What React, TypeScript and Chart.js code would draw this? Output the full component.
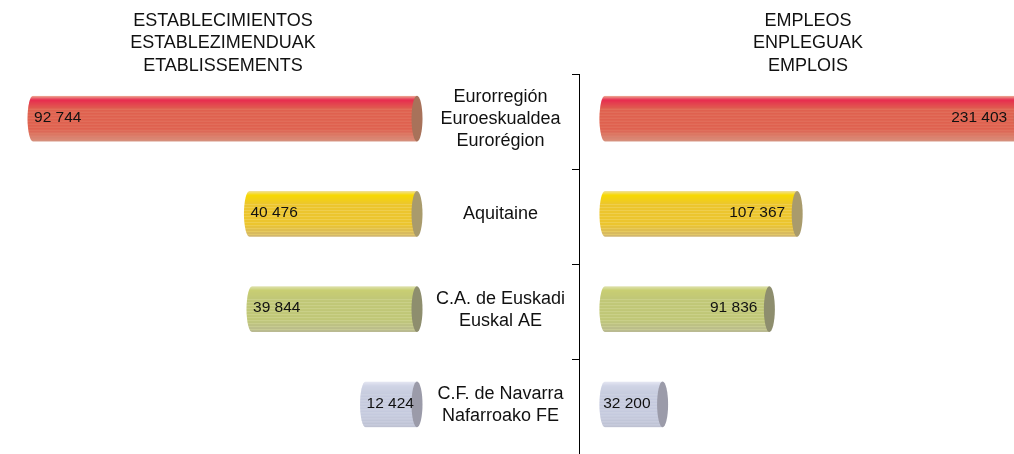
import React, { useEffect, useRef } from "react";
import { Chart, registerables } from "chart.js";

Chart.register(...registerables);

const categories: string[][] = [
  ["Eurorregión", "Euroeskualdea", "Eurorégion"],
  ["Aquitaine"],
  ["C.A. de Euskadi", "Euskal AE"],
  ["C.F. de Navarra", "Nafarroako FE"],
];
const establishments: number[] = [92744, 40476, 39844, 12424];
const employment: number[] = [231403, 107367, 91836, 32200];
const leftTitle: string[] = ["ESTABLECIMIENTOS", "ESTABLEZIMENDUAK", "ETABLISSEMENTS"];
const rightTitle: string[] = ["EMPLEOS", "ENPLEGUAK", "EMPLOIS"];

const FONT = '"Liberation Sans", Arial, Helvetica, sans-serif';

type Pal = { top: string; hi: string; mid: string; light: string; bottom: string; cap: string };
const palettes: Pal[] = [
  { top: "#e8907a", hi: "#e3002a", mid: "#d8402a", light: "#e0694e", bottom: "#cc7e66", cap: "#a8725a" },
  { top: "#f2e08a", hi: "#f7d900", mid: "#ecc52c", light: "#f1d768", bottom: "#cfb576", cap: "#a99b6c" },
  { top: "#d6da98", hi: "#bcc452", mid: "#b2ba58", light: "#cbd186", bottom: "#a8a97a", cap: "#8e8e6e" },
  { top: "#dde0ee", hi: "#c2c8df", mid: "#b4bad3", light: "#cacfe3", bottom: "#a8adc3", cap: "#9b9ba9" },
];

function hex(h: string): number[] {
  const v = parseInt(h.slice(1), 16);
  return [(v >> 16) & 255, (v >> 8) & 255, v & 255];
}
function mix(a: number[], b: number[], t: number): number[] {
  return a.map((x, i) => x + (b[i] - x) * t);
}
function rowColor(p: Pal, t: number, i: number): string {
  let c: number[];
  if (t < 0.08) c = mix(hex(p.top), hex(p.hi), t / 0.08);
  else if (t < 0.28) c = mix(hex(p.hi), hex(p.mid), (t - 0.08) / 0.2);
  else if (t < 0.72) c = hex(p.mid);
  else c = mix(hex(p.mid), hex(p.bottom), (t - 0.72) / 0.28);
  if (i % 3 === 1 && t > 0.25) c = mix(c, hex(p.light), 0.5);
  return `rgb(${Math.round(c[0])},${Math.round(c[1])},${Math.round(c[2])})`;
}

function fmt(n: number): string {
  return n.toString().replace(/\B(?=(\d{3})+(?!\d))/g, " ");
}

const RX = 5.5;

function cylinderPlugin(side: "left" | "right") {
  return {
    id: "cyl-" + side,
    afterDatasetsDraw(chart: any) {
      const ctx: CanvasRenderingContext2D = chart.ctx;
      const meta = chart.getDatasetMeta(0);
      const values: number[] = chart.data.datasets[0].data;
      meta.data.forEach((el: any, i: number) => {
        const { x, y, base, height } = el.getProps(["x", "y", "base", "height"], true);
        const cy = y - 3;
        const left = Math.min(x, base);
        const right = Math.max(x, base);
        const h = height;
        const top = cy - h / 2;
        const p = palettes[i % palettes.length];
        ctx.save();
        ctx.beginPath();
        ctx.moveTo(right, top);
        ctx.lineTo(left, top);
        ctx.ellipse(left, cy, RX, h / 2, 0, -Math.PI / 2, Math.PI / 2, true);
        ctx.lineTo(right, top + h);
        ctx.closePath();
        ctx.clip();
        const rows = Math.ceil(h);
        for (let r = 0; r < rows; r++) {
          ctx.fillStyle = rowColor(p, r / h, r);
          ctx.fillRect(left - RX - 1, top + r, right - left + RX + 2, 1);
        }
        ctx.restore();
        // end cap
        ctx.save();
        ctx.beginPath();
        ctx.ellipse(right, cy, RX, h / 2, 0, 0, Math.PI * 2);
        ctx.fillStyle = p.cap;
        ctx.fill();
        ctx.restore();
        // value label
        ctx.save();
        ctx.font = `15.5px ${FONT}`;
        ctx.fillStyle = "#111";
        ctx.textBaseline = "middle";
        if (side === "left") {
          ctx.textAlign = "left";
          ctx.fillText(fmt(values[i]), x + 1, cy - 1);
        } else {
          ctx.textAlign = "right";
          ctx.fillText(fmt(values[i]), x - 12, cy - 1);
        }
        ctx.restore();
      });
    },
  };
}

function titleOpts(text: string[]) {
  return {
    display: true,
    text,
    color: "#111",
    font: { size: 18, family: FONT, weight: "normal" as const, lineHeight: 1.25 },
    padding: { top: 9.5, bottom: -3 },
  };
}

export default function App() {
  const leftRef = useRef<HTMLCanvasElement>(null);
  const rightRef = useRef<HTMLCanvasElement>(null);

  useEffect(() => {
    const lc = new Chart(leftRef.current as HTMLCanvasElement, {
      type: "bar",
      data: {
        labels: categories as any,
        datasets: [
          {
            data: establishments,
            backgroundColor: "rgba(0,0,0,0)",
            borderWidth: 0,
            barPercentage: 0.48,
            categoryPercentage: 1,
          },
        ],
      },
      options: {
        indexAxis: "y",
        animation: false,
        responsive: false,
        layout: { padding: { left: 3, right: 0, top: 0, bottom: 1 } },
        plugins: {
          legend: { display: false },
          tooltip: { enabled: false },
          title: titleOpts(leftTitle) as any,
        },
        scales: {
          x: { reverse: true, min: 0, max: 100000, display: false },
          y: {
            position: "right",
            display: true,
            grid: { display: false },
            border: { display: false },
            ticks: { display: false },
            afterFit: (s: any) => {
              s.width = 26;
              s.paddingTop = 0;
              s.paddingBottom = 0;
            },
          },
        },
      },
      plugins: [cylinderPlugin("left")],
    });

    const rc = new Chart(rightRef.current as HTMLCanvasElement, {
      type: "bar",
      data: {
        labels: categories as any,
        datasets: [
          {
            data: employment,
            backgroundColor: "rgba(0,0,0,0)",
            borderWidth: 0,
            barPercentage: 0.48,
            categoryPercentage: 1,
          },
        ],
      },
      options: {
        indexAxis: "y",
        animation: false,
        responsive: false,
        layout: { padding: { left: 0, right: 0, top: 0, bottom: 1 } },
        plugins: {
          legend: { display: false },
          tooltip: { enabled: false },
          title: titleOpts(rightTitle) as any,
        },
        scales: {
          x: { min: -14500, max: 330700, display: false },
          y: {
            position: "left",
            border: { display: true, color: "#000", width: 1 },
            grid: {
              display: true,
              drawOnChartArea: false,
              drawTicks: true,
              tickLength: 7,
              color: "#000",
              lineWidth: 1,
              offset: true,
            },
            ticks: {
              crossAlign: "center",
              padding: 7,
              color: "#111",
              labelOffset: -2.5,
              font: { size: 18, family: FONT, lineHeight: 1.22 },
            },
            afterFit: (s: any) => {
              s.width = 160;
              s.paddingTop = 0;
              s.paddingBottom = 0;
            },
          },
        },
      },
      plugins: [cylinderPlugin("right")],
    });

    return () => {
      lc.destroy();
      rc.destroy();
    };
  }, []);

  return (
    <div
      style={{
        position: "absolute",
        left: 0,
        top: 0,
        width: 1014,
        height: 454,
        overflow: "hidden",
        background: "#fff",
      }}
    >
      <canvas ref={leftRef} width={443} height={456} style={{ position: "absolute", left: 0, top: 0 }} />
      <canvas ref={rightRef} width={778} height={456} style={{ position: "absolute", left: 419, top: 0 }} />
    </div>
  );
}
